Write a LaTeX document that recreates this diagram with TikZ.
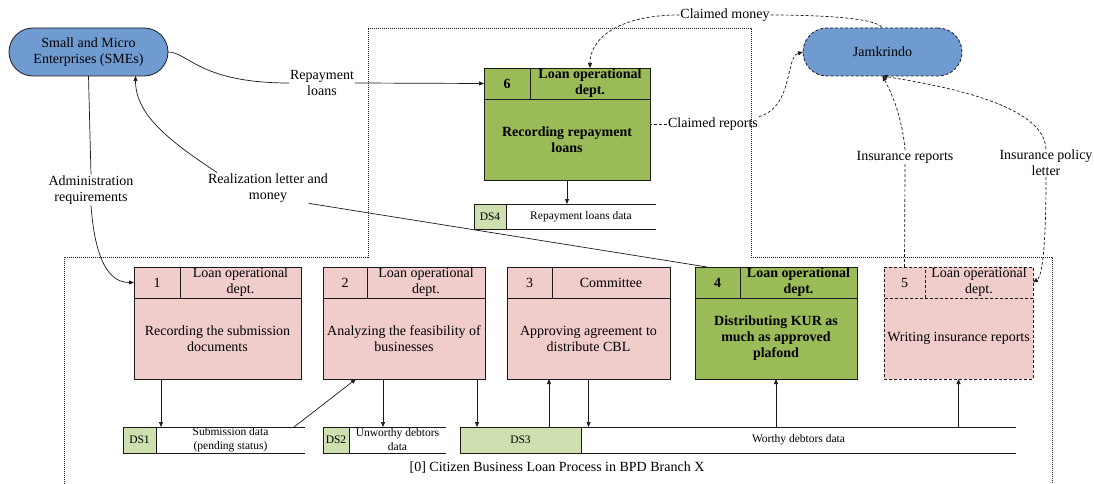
\documentclass[tikz,border=0pt]{standalone}
\usepackage{fontspec}
\setmainfont{Liberation Serif}
\usetikzlibrary{arrows.meta,calc}
\definecolor{smeblue}{HTML}{6F9BD1}
\definecolor{procpink}{HTML}{F0CCCB}
\definecolor{procgreen}{HTML}{9BBB59}
\definecolor{dsgreen}{HTML}{CEDFB0}
\definecolor{linec}{HTML}{1A1A1A}
\begin{document}
\begin{tikzpicture}[x=1pt,y=-1pt,
  every node/.style={font=\fontsize{14}{16}\selectfont, inner sep=0pt, outer sep=0pt},
  entity/.style={draw=linec, line width=0.8pt, fill=smeblue, rounded corners=24pt, minimum width=159pt, minimum height=48pt, align=center},
  cell/.style={draw=linec, line width=0.8pt, anchor=north west, align=center},
  pinkcell/.style={cell, fill=procpink},
  greencell/.style={cell, fill=procgreen, font=\fontsize{14}{16}\selectfont\bfseries},
  dashcell/.style={pinkcell, dash pattern=on 3pt off 2pt},
  dsbox/.style={cell, fill=dsgreen, font=\fontsize{11.5}{13}\selectfont},
  dstext/.style={anchor=north west, align=center, font=\fontsize{11.5}{14}\selectfont},
  dsline/.style={draw=linec, line width=0.8pt},
  flow/.style={draw=linec, line width=0.7pt, -{Triangle[length=5pt,width=4pt]}},
  plain/.style={draw=linec, line width=0.7pt},
  dflow/.style={flow, dash pattern=on 3pt off 2pt},
  dplain/.style={plain, dash pattern=on 3pt off 2pt},
  bound/.style={draw=linec, line width=0.8pt, dash pattern=on 1pt off 1pt},
  lbl/.style={align=center, inner sep=1pt},
]
\useasboundingbox[fill=white] (0,0) rectangle (1094,484);

% boundary of process
\draw[bound] (64,484) -- (64,257) -- (368,257) -- (368,28) -- (751,28) -- (751,257) -- (1052,257) -- (1052,484);

% external entities
\node[entity] (sme) at (88.5,52) {Small and Micro\\Enterprises (SMEs)};
\node[entity, dash pattern=on 3pt off 2pt] (jam) at (882.5,52) {Jamkrindo};

% process 6
\node[greencell, minimum width=46pt, minimum height=31pt] (p6n) at (484,68) {6};
\node[greencell, minimum width=120pt, minimum height=31pt] (p6d) at (p6n.north east) {Loan operational\\dept.};
\node[greencell, minimum width=166pt, minimum height=81pt] (p6b) at (p6n.south west) {Recording repayment\\loans};

% process 1
\node[pinkcell, minimum width=46pt, minimum height=31pt] (p1n) at (134,267) {1};
\node[pinkcell, minimum width=121pt, minimum height=31pt] (p1d) at (p1n.north east) {Loan operational\\dept.};
\node[pinkcell, minimum width=167pt, minimum height=81pt] (p1b) at (p1n.south west) {Recording the submission\\documents};

% process 2
\node[pinkcell, minimum width=44pt, minimum height=31pt] (p2n) at (323,267) {2};
\node[pinkcell, minimum width=118pt, minimum height=31pt] (p2d) at (p2n.north east) {Loan operational\\dept.};
\node[pinkcell, minimum width=162pt, minimum height=81pt] (p2b) at (p2n.south west) {Analyzing the feasibility of\\businesses};

% process 3
\node[pinkcell, minimum width=45pt, minimum height=31pt] (p3n) at (507,267) {3};
\node[pinkcell, minimum width=118pt, minimum height=31pt] (p3d) at (p3n.north east) {Committee};
\node[pinkcell, minimum width=163pt, minimum height=81pt] (p3b) at (p3n.south west) {Approving agreement to\\distribute CBL};

% process 4
\node[greencell, minimum width=45pt, minimum height=31pt] (p4n) at (695,267) {4};
\node[greencell, minimum width=117pt, minimum height=31pt] (p4d) at (p4n.north east) {Loan operational\\dept.};
\node[greencell, minimum width=162pt, minimum height=81pt] (p4b) at (p4n.south west) {Distributing KUR as\\much as approved\\plafond};

% process 5
\node[dashcell, minimum width=41pt, minimum height=31pt] (p5n) at (884,267) {5};
\node[dashcell, minimum width=108pt, minimum height=31pt] (p5d) at (p5n.north east) {Loan operational\\dept.};
\node[dashcell, minimum width=149pt, minimum height=81pt] (p5b) at (p5n.south west) {Writing insurance reports};

% data stores
\node[dsbox, minimum width=32pt, minimum height=25pt] (ds4) at (474,204) {DS4};
\node[dstext, minimum width=150pt, minimum height=25pt] (ds4t) at (ds4.north east) {Repayment loans data};
\draw[dsline] (ds4.north east) -- (ds4t.north east) (ds4.south east) -- (ds4t.south east);

\node[dsbox, minimum width=33pt, minimum height=26pt] (ds1) at (123,427) {DS1};
\node[dstext, minimum width=149pt, minimum height=26pt] (ds1t) at (ds1.north east) {Submission data\\(pending status)};
\draw[dsline] (ds1.north east) -- (ds1t.north east) (ds1.south east) -- (ds1t.south east);

\node[dsbox, minimum width=26pt, minimum height=26pt] (ds2) at (323,427) {DS2};
\node[dstext, minimum width=97pt, minimum height=26pt] (ds2t) at (ds2.north east) {Unworthy debtors\\data};
\draw[dsline] (ds2.north east) -- (ds2t.north east) (ds2.south east) -- (ds2t.south east);

\node[dsbox, minimum width=121pt, minimum height=26pt] (ds3) at (460,427) {DS3};
\node[dstext, minimum width=435pt, minimum height=26pt] (ds3t) at (ds3.north east) {Worthy debtors data};
\draw[dsline] (ds3.north east) -- (ds3t.north east) (ds3.south east) -- (ds3t.south east);

% labels
\node[lbl] (lrep) at (322,83) {Repayment\\loans};
\node[lbl] (lreal) at (268,188) {Realization letter and\\money};
\node[lbl] (ladm) at (91,190) {Administration\\requirements};
\node[lbl] (lcm) at (725,15) {Claimed money};
\node[lbl] (lcr) at (713,124) {Claimed reports};
\node[lbl] (lir) at (905,157) {Insurance reports};
\node[lbl] (lip) at (1046,163) {Insurance policy\\letter};

% title
\node (title) at (557,468) {[0] Citizen Business Loan Process in BPD Branch X};

% coordinates for vertical flows
\coordinate (a1) at ([xshift=27pt]p1b.south west);
\coordinate (a2) at ([xshift=60pt]p2b.south west);
\coordinate (a3) at ([xshift=-8pt]p2b.south east);
\coordinate (a4) at ([xshift=42pt]p3b.south west);

% solid flows
\draw[plain] (sme.east) .. controls +(20,0) and +(-90,0) .. (lrep.west);
\draw[flow] (lrep.east) -- (p6n.west);
\draw[plain] ([xshift=12pt]p4n.north west) -- ([xshift=-20pt]lreal.south east);
\draw[flow] ([xshift=10pt]lreal.north west) .. controls +(-45,-30) and +(0,40) .. ([xshift=47pt]sme.south);
\draw[plain] (sme.south) -- (ladm.north);
\draw[flow] (ladm.south) .. controls +(4,55) and +(-25,0) .. (p1n.west);

\draw[flow] (p6b.south) -- (p6b.south |- ds4t.north);
\draw[flow] (a1) -- (a1 |- ds1t.north);
\draw[flow] ([xshift=-11pt]ds1t.north east) -- ([xshift=33pt]p2b.south west);
\draw[flow] (a2) -- (a2 |- ds2t.north);
\draw[flow] (a3) -- (a3 |- ds3.north);
\draw[flow] (a4 |- ds3.north) -- (a4);
\draw[flow] (p3b.south) -- (p3b.south |- ds3t.north);
\draw[flow] (p4b.south |- ds3t.north) -- (p4b.south);
\draw[flow] (p5b.south |- ds3t.north) -- (p5b.south);

% dashed flows
\draw[dflow] (lcm.west) .. controls +(-60,0) and +(0,-30) .. (p6d.north);
\draw[dplain] (lcm.east) .. controls +(50,0) and +(-5,-10) .. (jam.north);
\draw[dplain] (lcr.west) -- (lcr.west -| p6b.east);
\draw[dflow] (lcr.north east) .. controls +(35,-10) and +(-18,5) .. (jam.west);
\draw[dplain] (p5n.north) -- (lir.south);
\draw[dflow] (lir.north) .. controls +(-3,-35) and +(8,15) .. (jam.south);
\draw[dflow] (lip.north) .. controls +(-2,-45) and +(60,10) .. (jam.south);
\draw[dflow] (lip.south) .. controls +(0,80) and +(8,-5) .. (p5d.east);
\end{tikzpicture}
\end{document}
